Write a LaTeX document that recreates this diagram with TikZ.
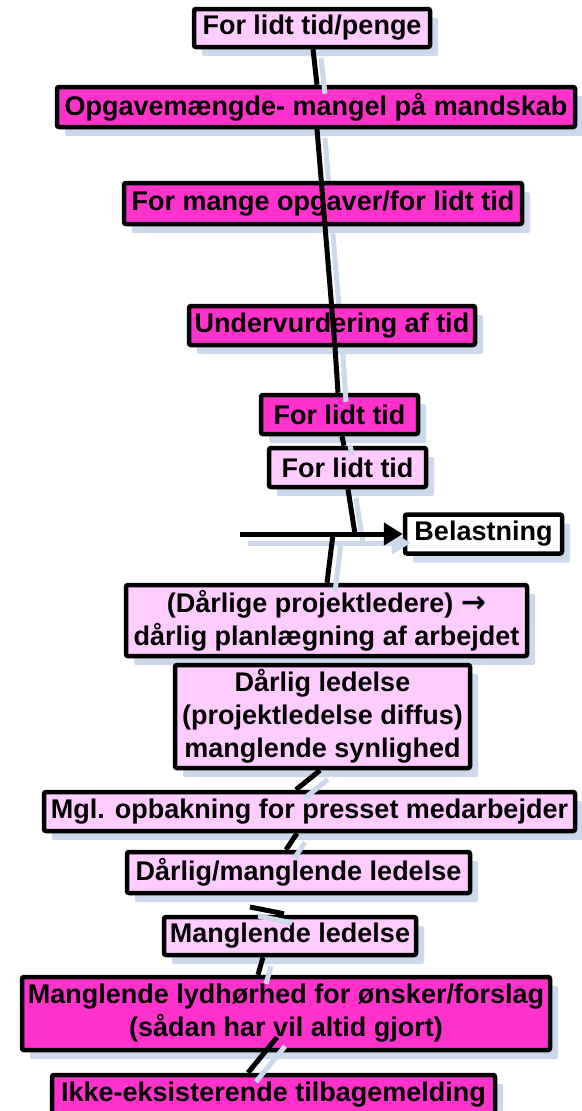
\documentclass[tikz,border=0pt]{standalone}
\usepackage{fontspec}
\setmainfont{Liberation Sans}
\newfontfamily\arrowfont{DejaVu Sans}
\usetikzlibrary{calc,arrows.meta,shadows}
\definecolor{mag}{RGB}{255,51,204}
\definecolor{lpink}{RGB}{255,204,255}
\definecolor{shade}{RGB}{204,216,236}
\tikzset{
  box/.style={draw=black, line width=4.5pt, rounded corners=2pt, inner sep=0pt,
    align=center, font=\fontsize{27}{33}\selectfont\bfseries,
    general shadow={fill=shade, shadow xshift=8pt, shadow yshift=-9pt}},
  magbox/.style={box, fill=mag},
  pinkbox/.style={box, fill=lpink},
  whitebox/.style={box, fill=white},
  spine/.style={line width=5pt, draw=black},
  spineshadow/.style={line width=5pt, draw=shade},
}
\begin{document}
\begin{tikzpicture}[x=1pt,y=-1pt]
\useasboundingbox (0,0) rectangle (581,1111);
\coordinate (c2a) at (317,129);
\coordinate (c2b) at (335,347);
\begin{scope}[transform canvas={xshift=8pt,yshift=-9pt}]
\draw[spineshadow] (c2a) -- (c2b);
\end{scope}
\node[pinkbox, minimum width=236, minimum height=38] (b1) at (312,28) {For lidt tid/penge};
\node[magbox, minimum width=518, minimum height=40] (b2) at (316,107) {Opgavemængde- mangel på mandskab};
\node[magbox, minimum width=398, minimum height=41] (b3) at (323,203.5) {For mange opgaver/for lidt tid};
\node[magbox, minimum width=286, minimum height=39] (b4) at (332,325.5) {Undervurdering af tid};
\node[magbox, minimum width=157, minimum height=39] (b5) at (339.5,414.5) {For lidt tid};
\node[pinkbox, minimum width=157, minimum height=39] (b6) at (347.5,467.5) {For lidt tid};
\node[whitebox, minimum width=157, minimum height=39] (b7) at (483.5,534) {Belastning};
\node[pinkbox, minimum width=401, minimum height=71] (b8) at (326.5,620.5) {(Dårlige projektledere) {\arrowfont\fontsize{30}{33}\selectfont\bfseries →}\\dårlig planlægning af arbejdet};
\node[pinkbox, minimum width=295, minimum height=103] (b9) at (322.5,716.5) {Dårlig ledelse\\(projektledelse diffus)\\manglende synlighed};
\node[pinkbox, minimum width=531, minimum height=39] (b10) at (309.5,811.5) {Mgl. opbakning for presset medarbejder};
\node[pinkbox, minimum width=343, minimum height=41] (b11) at (298.5,872.5) {Dårlig/manglende ledelse};
\node[pinkbox, minimum width=252, minimum height=38] (b12) at (290,936) {Manglende ledelse};
\node[magbox, minimum width=528, minimum height=73] (b13) at (286,1013.5) {Manglende lydhørhed for ønsker/forslag\\(sådan har vil altid gjort)};
\node[magbox, minimum width=443, minimum height=40] (b14) at (273.5,1095) {Ikke-eksisterende tilbagemelding};
\coordinate (astart) at (240,534);
\coordinate (j1) at (355,534);
\coordinate (j2) at (333,534);
\coordinate (stub) at (250,907);
\coordinate (inner) at ($(b13.south)+(-9,-15)$);
% connector shadows
\begin{scope}[transform canvas={xshift=8pt,yshift=-9pt}]
\draw[spineshadow] ($(b1.south)+(1,0)$) -- ($(b2.north)+(1,0)$);
\draw[spineshadow] ($(b4.south)+(3,0)$) -- ($(b5.north)+(-1.5,0)$);
\draw[spineshadow] ($(b5.south)+(2.5,0)$) -- ($(b6.north)+(-3.5,0)$);
\draw[spineshadow] ($(b6.south)+(0.5,0)$) -- (j1);
\draw[spineshadow,-{Triangle[length=19pt,width=22pt]}] (astart) -- (b7.west);
\draw[spineshadow] (j2) -- ($(b8.north)+(0.5,0)$);
\draw[spineshadow] ($(b9.south)+(-2.5,0)$) -- ($(b10.north)+(-13.5,0)$);
\draw[spineshadow] ($(b10.south)+(-12.5,0)$) -- ($(b11.north)+(-12.5,0)$);
\draw[spineshadow] ($(b12.north)+(-6,-1)$) -- (stub);
\draw[spineshadow] ($(b12.south)+(-27,0)$) -- ($(b13.north)+(-28,0)$);
\draw[spineshadow] (inner) -- ($(b14.north)+(-25.5,0)$);
\end{scope}
% connectors
\draw[spine] ($(b1.south)+(1,0)$) -- ($(b2.north)+(1,0)$);
\draw[spine] (c2a) -- (c2b);
\draw[spine] ($(b4.south)+(3,0)$) -- ($(b5.north)+(-1.5,0)$);
\draw[spine] ($(b5.south)+(2.5,0)$) -- ($(b6.north)+(-3.5,0)$);
\draw[spine] ($(b6.south)+(0.5,0)$) -- (j1);
\draw[spine,-{Triangle[length=19pt,width=22pt]}] (astart) -- (b7.west);
\draw[spine] (j2) -- ($(b8.north)+(0.5,0)$);
\draw[spine] ($(b9.south)+(-2.5,0)$) -- ($(b10.north)+(-13.5,0)$);
\draw[spine] ($(b10.south)+(-12.5,0)$) -- ($(b11.north)+(-12.5,0)$);
\draw[spine] ($(b12.north)+(-6,-1)$) -- (stub);
\draw[spine] ($(b12.south)+(-27,0)$) -- ($(b13.north)+(-28,0)$);
\draw[spine] (inner) -- ($(b14.north)+(-25.5,0)$);
\end{tikzpicture}
\end{document}
